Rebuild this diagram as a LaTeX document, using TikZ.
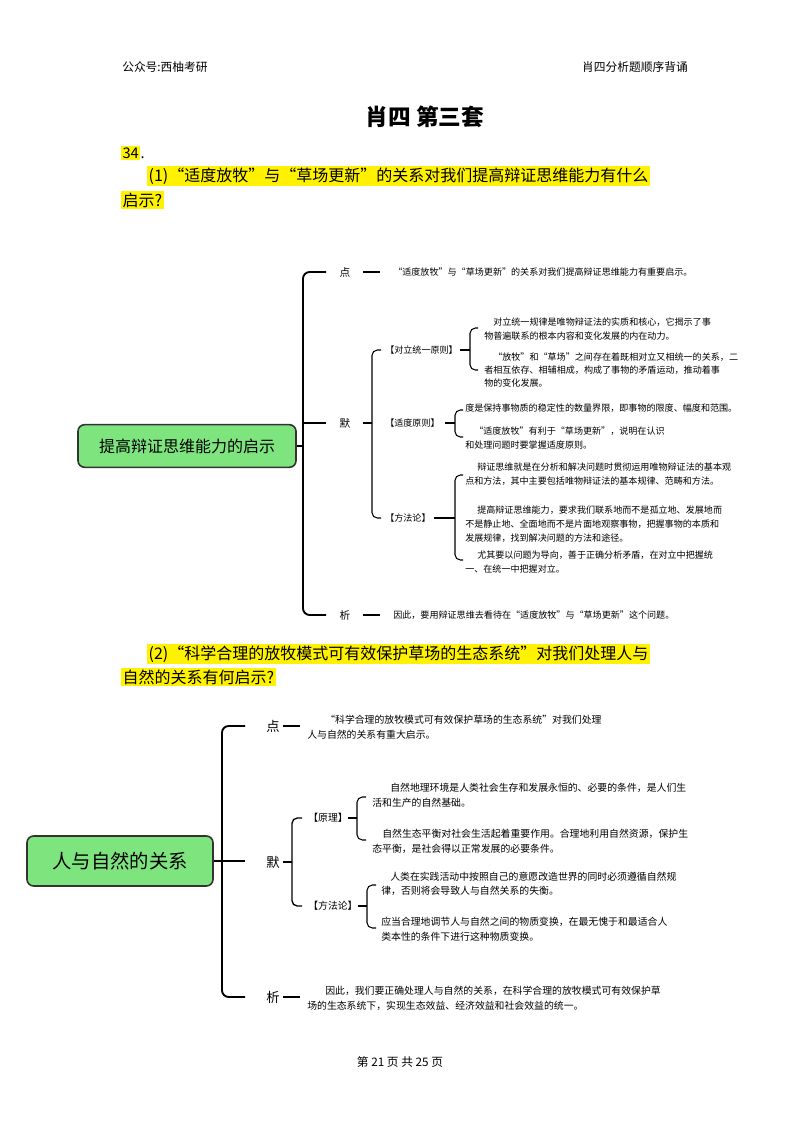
\documentclass[tikz,border=0pt]{standalone}
\usepackage{fontspec}
\setmainfont{Noto Sans CJK SC}
\begin{document}
\begin{tikzpicture}[x=0.75pt,y=-0.75pt,
  t/.style={anchor=west,inner sep=0pt,font=\fontsize{6.8}{8}\selectfont},
  tb/.style={anchor=west,inner sep=0pt,font=\fontsize{7.4}{9}\selectfont},
  lab/.style={inner sep=0pt,font=\fontsize{8}{9}\selectfont},
  labb/.style={inner sep=0pt,font=\fontsize{10}{11}\selectfont},
  hl/.style={anchor=west,fill=yellow,inner sep=1pt,font=\fontsize{12}{14}\selectfont},
  br/.style={line width=1.4pt,rounded corners=5pt},
  sb/.style={line width=0.8pt,rounded corners=4pt},
  root/.style={draw=black!80,line width=1.2pt,fill=green!45!white!90!black,rounded corners=5pt,inner sep=0pt}]
\useasboundingbox (0,0) rectangle (800,1132);
% header
\node[anchor=west,inner sep=0pt,font=\fontsize{8.8}{10}\selectfont] (hl1) at (122,67) {公众号:西柚考研};
\node[anchor=east,inner sep=0pt,font=\fontsize{8.8}{10}\selectfont] (hr1) at (688,67) {肖四分析题顺序背诵};
\node[inner sep=0pt,font=\fontsize{17}{19}\bfseries\selectfont] (title) at (425,117) {肖四\ 第三套};
\node[hl,font=\fontsize{11}{12}\selectfont] (q34) at (121,153) {34};
\node[anchor=base west,inner sep=0pt,font=\fontsize{11}{12}\selectfont] (q34d) at (q34.base east) {.};
\node[hl] (q1a) at (147,176) {(1)“适度放牧”与“草场更新”的关系对我们提高辩证思维能力有什么};
\node[hl] (q1b) at (121,200) {启示?};
% diagram 1
\node[root,minimum width=163.5pt,minimum height=32pt,font=\fontsize{12}{14}\selectfont] (r1) at (187,446) {提高辩证思维能力的启示};
\draw[br] (r1.east) -- (303,446);
\draw[br] (326,272) -- (303,272) -- (303,615) -- (326,615);
\draw[br] (303,423) -- (326,423);
\node[lab] (d1) at (345,272) {点};
\node[lab] (m1) at (345,423) {默};
\node[lab] (x1) at (345,615) {析};
\draw[line width=1pt] (363,272) -- (380,272);
\draw[line width=1pt] (363,615) -- (380,615);
\draw[line width=1pt] (363,423) -- (372,423);
\node[t] (d1t) at (393,272) {“适度放牧”与“草场更新”的关系对我们提高辩证思维能力有重要启示。};
\node[t] (x1t) at (393,615) {因此，要用辩证思维去看待在“适度放牧”与“草场更新”这个问题。};
\draw[sb] (381,350) -- (372,350) -- (372,518) -- (381,518);
\node[t] (p1) at (385,350) {【对立统一原则】};
\node[t] (p2) at (385,423) {【适度原则】};
\node[t] (p3) at (385,518) {【方法论】};
\draw[sb] (460,350) -- (470,350);
\draw[sb] (478,328) -- (470,328) -- (470,370) -- (478,370);
\node[t] at (493,322) {对立统一规律是唯物辩证法的实质和核心，它揭示了事};
\node[t] at (484,336) {物普遍联系的根本内容和变化发展的内在动力。};
\node[t] at (493,357) {“放牧”和“草场”之间存在着既相对立又相统一的关系，二};
\node[t] at (484,370) {者相互依存、相辅相成，构成了事物的矛盾运动，推动着事};
\node[t] at (484,383) {物的变化发展。};
\draw[sb] (445,423) -- (455,423);
\draw[sb] (463,410) -- (455,410) -- (455,437) -- (463,437);
\node[t] at (465,408) {度是保持事物质的稳定性的数量界限，即事物的限度、幅度和范围。};
\node[t] at (474,431) {“适度放牧”有利于“草场更新”，说明在认识};
\node[t] at (465,445) {和处理问题时要掌握适度原则。};
\draw[sb] (434,518) -- (455,518);
\draw[sb] (463,475) -- (455,475) -- (455,560) -- (463,560);
\node[t] at (465,467) {\hspace{9pt}辩证思维就是在分析和解决问题时贯彻运用唯物辩证法的基本观};
\node[t] at (465,481) {点和方法，其中主要包括唯物辩证法的基本规律、范畴和方法。};
\node[t] at (465,510) {\hspace{9pt}提高辩证思维能力，要求我们联系地而不是孤立地、发展地而};
\node[t] at (465,524) {不是静止地、全面地而不是片面地观察事物，把握事物的本质和};
\node[t] at (465,538) {发展规律，找到解决问题的方法和途径。};
\node[t] at (465,555) {\hspace{9pt}尤其要以问题为导向，善于正确分析矛盾，在对立中把握统};
\node[t] at (465,569) {一、在统一中把握对立。};
% question 2
\node[hl] (q2a) at (147,654) {(2)“科学合理的放牧模式可有效保护草场的生态系统”对我们处理人与};
\node[hl] (q2b) at (121,677) {自然的关系有何启示?};
% diagram 2
\node[root,minimum width=139.5pt,minimum height=37.5pt,font=\fontsize{14.5}{16}\selectfont] (r2) at (120,861) {人与自然的关系};
\draw[br] (r2.east) -- (245,861);
\draw[br] (245,726) -- (222,726) -- (222,997) -- (245,997);
\node[labb] (d2) at (273,726) {点};
\node[labb] (m2) at (273,862) {默};
\node[labb] (x2) at (273,997) {析};
\draw[line width=1.3pt] (283,726) -- (300,726);
\draw[line width=1.3pt] (283,997) -- (300,997);
\draw[line width=1pt] (283,862) -- (292,862);
\node[tb] at (325,720) {“科学合理的放牧模式可有效保护草场的生态系统”对我们处理};
\node[tb] at (307,735) {人与自然的关系有重大启示。};
\node[tb] at (325,991) {因此，我们要正确处理人与自然的关系，在科学合理的放牧模式可有效保护草};
\node[tb] at (307,1006) {场的生态系统下，实现生态效益、经济效益和社会效益的统一。};
\draw[sb,line width=1pt] (302,818) -- (292,818) -- (292,906) -- (302,906);
\node[tb] (pp1) at (308,818) {【原理】};
\node[tb] (pp2) at (308,906) {【方法论】};
\draw[sb] (348,818) -- (357,818);
\draw[sb] (366,797) -- (357,797) -- (357,840) -- (366,840);
\node[tb] at (390,788) {自然地理环境是人类社会生存和发展永恒的、必要的条件，是人们生};
\node[tb] at (372,803) {活和生产的自然基础。};
\node[tb] at (382,834) {自然生态平衡对社会生活起着重要作用。合理地利用自然资源，保护生};
\node[tb] at (372,849) {态平衡，是社会得以正常发展的必要条件。};
\draw[sb] (358,906) -- (367,906);
\draw[sb] (376,885) -- (367,885) -- (367,928) -- (376,928);
\node[tb] at (390,877) {人类在实践活动中按照自己的意愿改造世界的同时必须遵循自然规};
\node[tb] at (381,891) {律，否则将会导致人与自然关系的失衡。};
\node[tb] at (381,922) {应当合理地调节人与自然之间的物质变换，在最无愧于和最适合人};
\node[tb] at (381,937) {类本性的条件下进行这种物质变换。};
% footer
\node[inner sep=0pt,font=\fontsize{8.8}{10}\selectfont] (foot) at (400,1062) {第\ 21\ 页\ 共\ 25\ 页};
\end{tikzpicture}
\end{document}
